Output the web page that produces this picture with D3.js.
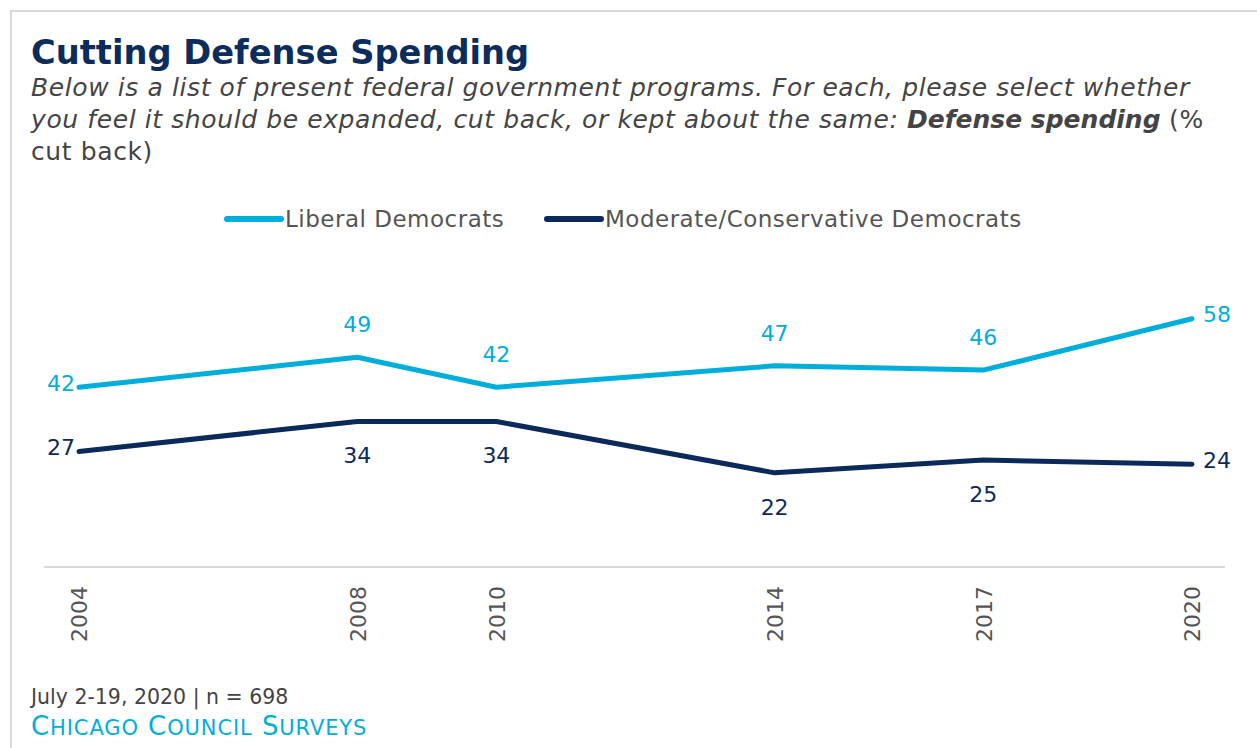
<!DOCTYPE html>
<html>
<head>
<meta charset="utf-8">
<script src="https://cdn.jsdelivr.net/npm/d3@7"></script>
<style>
  body { margin: 0; background: #fff; }
  svg { display: block; font-family: "DejaVu Sans", sans-serif; }
</style>
</head>
<body>
<svg></svg>
<script>
"use strict";

var years = [2004, 2008, 2010, 2014, 2017, 2020];
var liberal = [42, 49, 42, 47, 46, 58];
var moderate = [27, 34, 34, 22, 25, 24];
var seriesNames = ["Liberal Democrats", "Moderate/Conservative Democrats"];
var colors = ["#00aedb", "#0b2a5b"];
// where each value label sits relative to its point
var liberalPlace = ["left", "above", "above", "above", "above", "right"];
var moderatePlace = ["left", "below", "below", "below", "below", "right"];

var width = 1257,
    height = 748;

var svg = d3.select("svg")
    .attr("width", width)
    .attr("height", height);

// frame
svg.append("rect")
    .attr("x", 11).attr("y", 11)
    .attr("width", 1300).attr("height", 800)
    .attr("fill", "none")
    .attr("stroke", "#dadada")
    .attr("stroke-width", 2);

// title + subtitle
svg.append("text")
    .attr("x", 31).attr("y", 64)
    .attr("font-size", 33.7).attr("font-weight", "bold")
    .attr("fill", "#0c2c5c")
    .text("Cutting Defense Spending");

var sub = svg.append("g").attr("fill", "#444").attr("font-size", 25)
    .attr("letter-spacing", 0.6);
sub.append("text").attr("x", 31).attr("y", 96)
    .attr("font-style", "italic")
    .text("Below is a list of present federal government programs. For each, please select whether");
var l2 = sub.append("text").attr("x", 31).attr("y", 128);
l2.append("tspan").attr("font-style", "italic")
    .text("you feel it should be expanded, cut back, or kept about the same: ");
l2.append("tspan").attr("font-style", "italic").attr("font-weight", "bold")
    .attr("letter-spacing", 0)
    .text("Defense spending");
l2.append("tspan").text(" (%");
sub.append("text").attr("x", 31).attr("y", 160).text("cut back)");

// legend
var legendX = [[227, 281, 285], [547, 601, 605]];
var legend = svg.append("g").selectAll("g")
    .data(seriesNames)
    .enter().append("g");
legend.append("line")
    .attr("x1", function (d, i) { return legendX[i][0]; })
    .attr("x2", function (d, i) { return legendX[i][1]; })
    .attr("y1", 219).attr("y2", 219)
    .attr("stroke", function (d, i) { return colors[i]; })
    .attr("stroke-width", 6)
    .attr("stroke-linecap", "round");
legend.append("text")
    .attr("x", function (d, i) { return legendX[i][2]; })
    .attr("y", 219).attr("dy", "0.35em")
    .attr("font-size", 23).attr("letter-spacing", 0.5).attr("fill", "#555")
    .text(function (d) { return d; });

// scales
var x = d3.scaleLinear().domain([2004, 2020]).range([79, 1192]);
var y = d3.scaleLinear().domain([0, 60]).range([567, 310.2]);

// baseline
svg.append("line")
    .attr("x1", 44).attr("x2", 1225)
    .attr("y1", y(0)).attr("y2", y(0))
    .attr("stroke", "#d9d9d9").attr("stroke-width", 2);

// x axis labels
var axis = svg.append("g")
    .attr("transform", "translate(0," + y(0) + ")")
    .call(d3.axisBottom(x).tickValues(years).tickFormat(d3.format("d")).tickSize(0));
axis.select(".domain").remove();
axis.selectAll("text")
    .attr("transform", "rotate(-90)")
    .attr("text-anchor", "end")
    .attr("x", -19).attr("y", 0).attr("dy", "0.36em")
    .attr("font-family", "\"DejaVu Sans\", sans-serif")
    .attr("font-size", 22).attr("fill", "#555");

var line = d3.line()
    .x(function (d) { return x(d.year); })
    .y(function (d) { return y(d.value); });

function series(values, place, color) {
    var pts = values.map(function (v, i) { return { year: years[i], value: v, place: place[i] }; });
    svg.append("path")
        .datum(pts)
        .attr("d", line)
        .attr("fill", "none")
        .attr("stroke", color)
        .attr("stroke-width", 5)
        .attr("stroke-linecap", "round")
        .attr("stroke-linejoin", "round");

    svg.append("g").selectAll("text")
        .data(pts)
        .enter().append("text")
        .attr("font-size", 22)
        .attr("fill", color)
        .attr("dy", "0.35em")
        .attr("text-anchor", function (d) {
            return d.place === "left" ? "end" : d.place === "right" ? "start" : "middle";
        })
        .attr("x", function (d) {
            if (d.place === "left") return x(d.year) - 4;
            if (d.place === "right") return x(d.year) + 11;
            return x(d.year);
        })
        .attr("y", function (d) {
            if (d.place === "above") return y(d.value) - 33;
            if (d.place === "below") return y(d.value) + 34;
            return y(d.value) - 4;
        })
        .text(function (d) { return d.value; });
}

series(liberal, liberalPlace, colors[0]);
series(moderate, moderatePlace, colors[1]);

// footer
svg.append("text")
    .attr("x", 31).attr("y", 704)
    .attr("font-size", 20.5).attr("fill", "#444")
    .text("July 2-19, 2020 | n = 698");

// small caps brand line, built from big initials + smaller capitals
var brand = svg.append("text")
    .attr("x", 31).attr("y", 735)
    .attr("fill", "#00aedb").attr("letter-spacing", 0.9);
["Chicago", "Council", "Surveys"].forEach(function (w, i) {
    brand.append("tspan").attr("font-size", 26).text((i ? " " : "") + w[0]);
    brand.append("tspan").attr("font-size", 21).text(w.slice(1).toUpperCase());
});
</script>
</body>
</html>
